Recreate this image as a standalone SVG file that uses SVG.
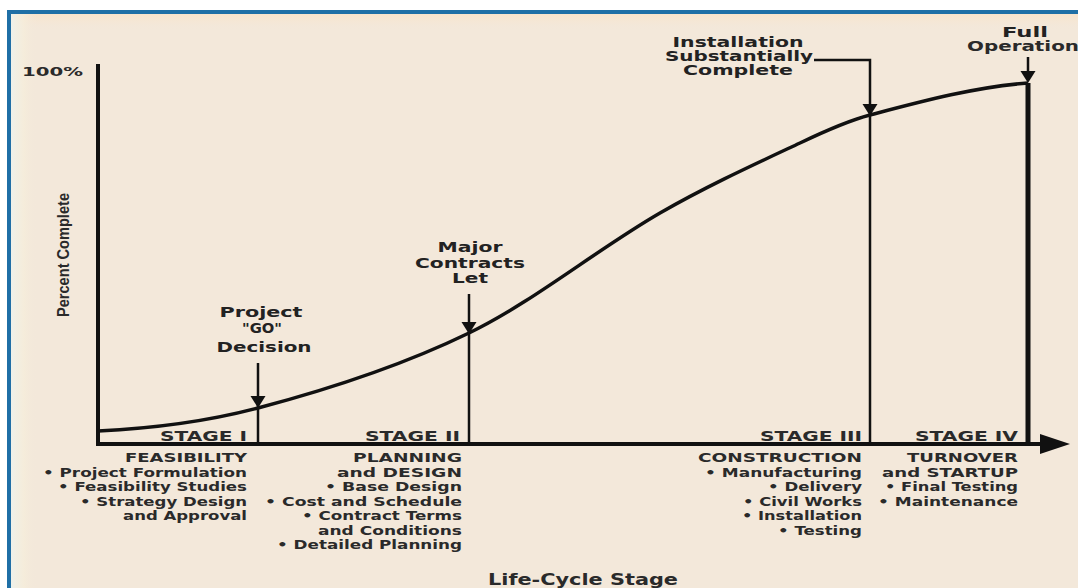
<svg xmlns="http://www.w3.org/2000/svg" width="1078" height="588" viewBox="0 0 1078 588">
  <defs>
    <linearGradient id="topfade" x1="0" y1="0" x2="0" y2="1">
      <stop offset="0" stop-color="#F9E3C9" stop-opacity="0.9"/>
      <stop offset="1" stop-color="#F3E8DA" stop-opacity="0"/>
    </linearGradient>
    <linearGradient id="leftfade" x1="0" y1="0" x2="1" y2="0">
      <stop offset="0" stop-color="#EEF2EC" stop-opacity="0.9"/>
      <stop offset="0.5" stop-color="#F6EEDB" stop-opacity="0.7"/>
      <stop offset="1" stop-color="#F3E8DA" stop-opacity="0"/>
    </linearGradient>
    <path id="tri" d="M-7.5,-12 L7.5,-12 L0,0 Z" fill="#111"/>
    <style>
      .t { font-family: "DejaVu Sans", "Liberation Sans", sans-serif; font-weight: bold; fill: #2a2a2a; }
      .stage { font-size: 14px; text-anchor: end; }
      .list { font-size: 12.5px; text-anchor: end; }
      .ms { font-size: 13.5px; text-anchor: middle; fill: #222; }
      .ln { stroke: #111; fill: none; }
    </style>
  </defs>

  <!-- background and frame -->
  <rect width="1078" height="588" fill="#ffffff"/>
  <rect x="7" y="10" width="1071" height="578" fill="#1F6FA6"/>
  <rect x="11" y="14" width="1067" height="574" fill="#F3E8DA"/>
  <rect x="11" y="14" width="1067" height="16" fill="url(#topfade)"/>
  <rect x="11" y="14" width="26" height="574" fill="url(#leftfade)"/>

  <!-- axes -->
  <g id="axes">
    <line class="ln" x1="98" y1="64" x2="98" y2="446" stroke-width="4"/>
    <line class="ln" x1="96" y1="444" x2="1045" y2="444" stroke-width="4"/>
    <polygon points="1040,434 1070,444 1040,454" fill="#111"/>
    <text class="t" x="22" y="76" font-size="13" textLength="61" lengthAdjust="spacingAndGlyphs">100%</text>
    <text transform="translate(69,255) rotate(-90)" font-family="Liberation Sans Narrow, Liberation Sans, sans-serif" font-weight="bold" font-size="16.5" fill="#2a2a2a" text-anchor="middle" textLength="124" lengthAdjust="spacingAndGlyphs">Percent Complete</text>
    <text class="t" x="583" y="585" font-size="15" text-anchor="middle" textLength="190" lengthAdjust="spacingAndGlyphs">Life-Cycle Stage</text>
  </g>

  <!-- S-curve -->
  <g id="curve">
    <path class="ln" stroke-width="3.5" d="M98,431 C151,428.5 205,422 258,408 C328,389.5 399,367 469,333 C533,302 596,250 660,213 C707,186 753,165 800,143 C823,132 847,121 870,115 C923,101 975,87 1028,83"/>
  </g>

  <!-- connectors: milestone markers -->
  <g id="connectors">
    <line class="ln" x1="258" y1="363" x2="258" y2="444" stroke-width="2.5"/>
    <use href="#tri" x="258" y="408"/>
    <line class="ln" x1="469" y1="294" x2="469" y2="444" stroke-width="2.5"/>
    <use href="#tri" x="469" y="334"/>
    <polyline class="ln" points="814,60 870,60 870,444" stroke-width="2.5"/>
    <use href="#tri" x="870" y="116"/>
    <line class="ln" x1="1028" y1="57" x2="1028" y2="72" stroke-width="2.5"/>
    <use href="#tri" x="1028" y="83"/>
    <line class="ln" x1="1028" y1="83" x2="1028" y2="446" stroke-width="5"/>
  </g>

  <!-- milestone labels -->
  <g id="ms-go">
    <text class="t ms" x="261" y="317" textLength="83" lengthAdjust="spacingAndGlyphs">Project</text>
    <text class="t ms" x="262" y="333" textLength="40" lengthAdjust="spacingAndGlyphs">"GO"</text>
    <text class="t ms" x="264" y="352" textLength="95" lengthAdjust="spacingAndGlyphs">Decision</text>
  </g>
  <g id="ms-contracts">
    <text class="t ms" x="470" y="252" textLength="65" lengthAdjust="spacingAndGlyphs">Major</text>
    <text class="t ms" x="470" y="268" textLength="110" lengthAdjust="spacingAndGlyphs">Contracts</text>
    <text class="t ms" x="470" y="283" textLength="36" lengthAdjust="spacingAndGlyphs">Let</text>
  </g>
  <g id="ms-installation">
    <text class="t ms" x="738" y="47" textLength="131" lengthAdjust="spacingAndGlyphs">Installation</text>
    <text class="t ms" x="739" y="61" textLength="148" lengthAdjust="spacingAndGlyphs">Substantially</text>
    <text class="t ms" x="738" y="75" textLength="110" lengthAdjust="spacingAndGlyphs">Complete</text>
  </g>
  <g id="ms-full">
    <text class="t ms" x="1025" y="37" textLength="46" lengthAdjust="spacingAndGlyphs">Full</text>
    <text class="t" x="967" y="51" font-size="13.5" fill="#222" textLength="112" lengthAdjust="spacingAndGlyphs">Operation</text>
  </g>

  <!-- stage labels -->
  <g id="stage-labels">
    <text class="t stage" x="247" y="441" textLength="87" lengthAdjust="spacingAndGlyphs">STAGE I</text>
    <text class="t stage" x="460" y="441" textLength="95" lengthAdjust="spacingAndGlyphs">STAGE II</text>
    <text class="t stage" x="862" y="441" textLength="102" lengthAdjust="spacingAndGlyphs">STAGE III</text>
    <text class="t stage" x="1018" y="441" textLength="103" lengthAdjust="spacingAndGlyphs">STAGE IV</text>
  </g>

  <!-- stage descriptions -->
  <g id="stage1">
    <text class="t list" x="247" y="462" textLength="122" lengthAdjust="spacingAndGlyphs">FEASIBILITY</text>
    <text class="t list" x="247" y="476.5" textLength="204" lengthAdjust="spacingAndGlyphs">• Project Formulation</text>
    <text class="t list" x="247" y="491" textLength="189" lengthAdjust="spacingAndGlyphs">• Feasibility Studies</text>
    <text class="t list" x="247" y="505.5" textLength="167" lengthAdjust="spacingAndGlyphs">• Strategy Design</text>
    <text class="t list" x="247" y="520" textLength="124" lengthAdjust="spacingAndGlyphs">and Approval</text>
  </g>
  <g id="stage2">
    <text class="t list" x="462" y="462" textLength="109" lengthAdjust="spacingAndGlyphs">PLANNING</text>
    <text class="t list" x="462" y="476.5" textLength="125" lengthAdjust="spacingAndGlyphs">and DESIGN</text>
    <text class="t list" x="462" y="491" textLength="137" lengthAdjust="spacingAndGlyphs">• Base Design</text>
    <text class="t list" x="462" y="505.5" textLength="197" lengthAdjust="spacingAndGlyphs">• Cost and Schedule</text>
    <text class="t list" x="462" y="520" textLength="160" lengthAdjust="spacingAndGlyphs">• Contract Terms</text>
    <text class="t list" x="462" y="534.5" textLength="144" lengthAdjust="spacingAndGlyphs">and Conditions</text>
    <text class="t list" x="462" y="549" textLength="185" lengthAdjust="spacingAndGlyphs">• Detailed Planning</text>
  </g>
  <g id="stage3">
    <text class="t list" x="862" y="462" textLength="164" lengthAdjust="spacingAndGlyphs">CONSTRUCTION</text>
    <text class="t list" x="862" y="476.5" textLength="157" lengthAdjust="spacingAndGlyphs">• Manufacturing</text>
    <text class="t list" x="862" y="491" textLength="94" lengthAdjust="spacingAndGlyphs">• Delivery</text>
    <text class="t list" x="862" y="505.5" textLength="119" lengthAdjust="spacingAndGlyphs">• Civil Works</text>
    <text class="t list" x="862" y="520" textLength="120" lengthAdjust="spacingAndGlyphs">• Installation</text>
    <text class="t list" x="862" y="534.5" textLength="84" lengthAdjust="spacingAndGlyphs">• Testing</text>
  </g>
  <g id="stage4">
    <text class="t list" x="1018" y="462" textLength="111" lengthAdjust="spacingAndGlyphs">TURNOVER</text>
    <text class="t list" x="1018" y="476.5" textLength="136" lengthAdjust="spacingAndGlyphs">and STARTUP</text>
    <text class="t list" x="1018" y="491" textLength="133" lengthAdjust="spacingAndGlyphs">• Final Testing</text>
    <text class="t list" x="1018" y="505.5" textLength="140" lengthAdjust="spacingAndGlyphs">• Maintenance</text>
  </g>
</svg>
